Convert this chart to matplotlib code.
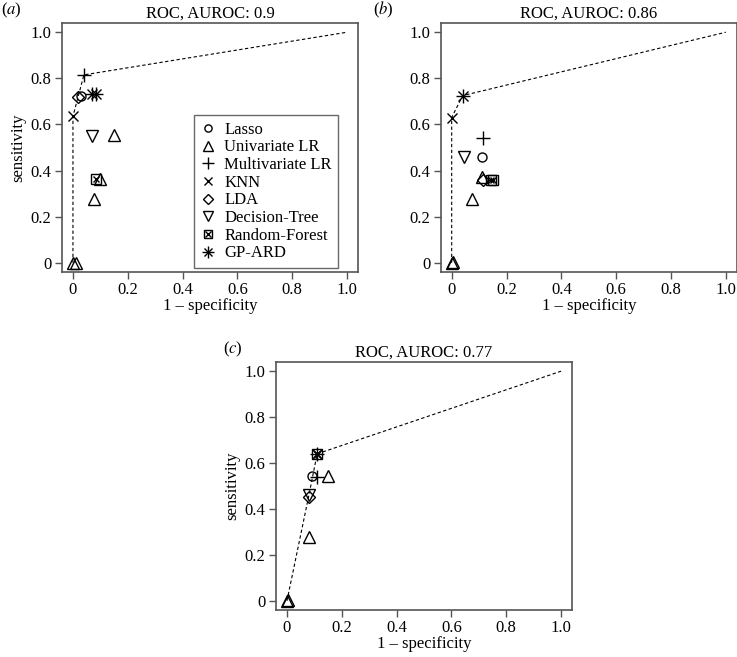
import matplotlib
matplotlib.use('Agg')
import matplotlib.pyplot as plt
from matplotlib.lines import Line2D
from matplotlib.legend_handler import HandlerTuple

plt.rcParams['font.family'] = ['Liberation Serif', 'DejaVu Serif']
plt.rcParams['mathtext.fontset'] = 'stix'

# methods and their R-style symbols
methods = ['Lasso', 'Univariate LR', 'Multivariate LR', 'KNN', 'LDA',
           'Decision-Tree', 'Random-Forest', 'GP-ARD']

# panel (a)
a_auroc = '0.9'
a_method = ['Univariate LR', 'Univariate LR', 'Univariate LR', 'Univariate LR', 'Univariate LR',
            'Lasso', 'LDA', 'Multivariate LR', 'KNN', 'Decision-Tree', 'Random-Forest',
            'GP-ARD', 'GP-ARD']
a_fpr = [0.0, 0.01, 0.15, 0.10, 0.075, 0.03, 0.02, 0.04, 0.0, 0.07, 0.085, 0.07, 0.085]
a_tpr = [0.0, 0.0, 0.555, 0.365, 0.275, 0.725, 0.72, 0.815, 0.635, 0.55, 0.365, 0.73, 0.73]
a_roc_fpr = [0.0, 0.0, 0.04, 1.0]
a_roc_tpr = [0.0, 0.635, 0.815, 1.0]

# panel (b)
b_auroc = '0.86'
b_method = ['Univariate LR', 'Univariate LR', 'Univariate LR', 'Univariate LR',
            'Lasso', 'LDA', 'Multivariate LR', 'KNN', 'Decision-Tree', 'Random-Forest',
            'Random-Forest', 'GP-ARD']
b_fpr = [0.0, 0.005, 0.11, 0.075, 0.11, 0.115, 0.115, 0.0, 0.045, 0.145, 0.15, 0.04]
b_tpr = [0.0, 0.005, 0.37, 0.275, 0.46, 0.36, 0.54, 0.63, 0.46, 0.36, 0.36, 0.725]
b_roc_fpr = [0.0, 0.0, 0.04, 1.0]
b_roc_tpr = [0.0, 0.63, 0.725, 1.0]

# panel (c)
c_auroc = '0.77'
c_method = ['Univariate LR', 'Univariate LR', 'Univariate LR', 'Univariate LR',
            'Lasso', 'LDA', 'Multivariate LR', 'KNN', 'Decision-Tree', 'Random-Forest',
            'GP-ARD']
c_fpr = [0.0, 0.005, 0.15, 0.08, 0.09, 0.08, 0.11, 0.11, 0.08, 0.11, 0.11]
c_tpr = [0.0, 0.005, 0.545, 0.28, 0.545, 0.45, 0.54, 0.64, 0.46, 0.64, 0.64]
c_roc_fpr = [0.0, 0.08, 0.11, 1.0]
c_roc_tpr = [0.0, 0.46, 0.64, 1.0]

ticks = [0, 0.2, 0.4, 0.6, 0.8, 1.0]
tick_labels = ['0', '0.2', '0.4', '0.6', '0.8', '1.0']

frame_col = '#555555'
fs = 12

# marker parts for each method (one or more overlaid symbols)
styles = {
    'Lasso': [dict(marker='o', ms=6.5)],
    'Univariate LR': [dict(marker='^', ms=9)],
    'Multivariate LR': [dict(marker='+', ms=10)],
    'KNN': [dict(marker='x', ms=7.5)],
    'LDA': [dict(marker='D', ms=6)],
    'Decision-Tree': [dict(marker='v', ms=9)],
    'Random-Forest': [dict(marker='s', ms=7), dict(marker='x', ms=5)],
    'GP-ARD': [dict(marker='+', ms=10), dict(marker='x', ms=7.5)],
}


def draw_points(ax, method, x, y):
    for m, xx, yy in zip(method, x, y):
        for st in styles[m]:
            ax.plot([xx], [yy], linestyle='none', marker=st['marker'], ms=st['ms'],
                    mfc='none', mec='black', mew=1.0, zorder=3)


def setup(ax, label, lx, auroc, ylabel=True):
    ax.set_xlim(-0.04, 1.04)
    ax.set_ylim(-0.04, 1.04)
    ax.set_xticks(ticks)
    ax.set_xticklabels(tick_labels)
    ax.set_yticks(ticks)
    ax.set_yticklabels(tick_labels)
    ax.tick_params(direction='out', length=5, width=1, color=frame_col,
                   labelsize=fs, pad=2.5)
    for s in ax.spines.values():
        s.set_color(frame_col)
        s.set_linewidth(1.2)
    ax.set_xlabel('1 \u2013 specificity', fontsize=fs, labelpad=0)
    if ylabel:
        ax.set_ylabel('sensitivity', fontsize=fs, labelpad=3)
    ax.set_title('ROC, AUROC: ' + auroc, fontsize=fs, pad=4)
    ax.text(lx, 1.052, '(' + r'$\it{' + label + '}$' + ')', transform=ax.transAxes,
            fontsize=fs, ha='left', va='center')


fig = plt.figure(figsize=(7.37, 6.57), dpi=100)
ax_a = fig.add_axes([0.0841, 0.586, 0.4017, 0.379])
ax_b = fig.add_axes([0.598, 0.586, 0.4017, 0.379])
ax_c = fig.add_axes([0.3745, 0.0715, 0.4017, 0.3775])

for ax, lab, lx, au, rf, rt, m, x, y, yl in [
        (ax_a, 'a', -0.205, a_auroc, a_roc_fpr, a_roc_tpr, a_method, a_fpr, a_tpr, True),
        (ax_b, 'b', -0.23, b_auroc, b_roc_fpr, b_roc_tpr, b_method, b_fpr, b_tpr, False),
        (ax_c, 'c', -0.18, c_auroc, c_roc_fpr, c_roc_tpr, c_method, c_fpr, c_tpr, True)]:
    ax.plot(rf, rt, color='black', linestyle=(0, (3, 2.2)), linewidth=0.8, zorder=2)
    draw_points(ax, m, x, y)
    setup(ax, lab, lx, au, yl)

# legend on panel (a)
handles = []
for name in methods:
    parts = tuple(Line2D([], [], linestyle='none', marker=st['marker'],
                         ms=st['ms'] * 0.8, mfc='none', mec='black', mew=1.0)
                  for st in styles[name])
    handles.append(parts)
leg = ax_a.legend(handles, methods, loc='lower left', bbox_to_anchor=(0.446, 0.016),
                  fontsize=fs, borderaxespad=0,
                  handler_map={tuple: HandlerTuple(ndivide=1, pad=0)},
                  frameon=True, fancybox=False, edgecolor='#444444',
                  handlelength=0.9, handletextpad=0.5, labelspacing=0.1,
                  borderpad=0.4)
leg.get_frame().set_linewidth(1.0)

fig.savefig('out.png', dpi=100)
